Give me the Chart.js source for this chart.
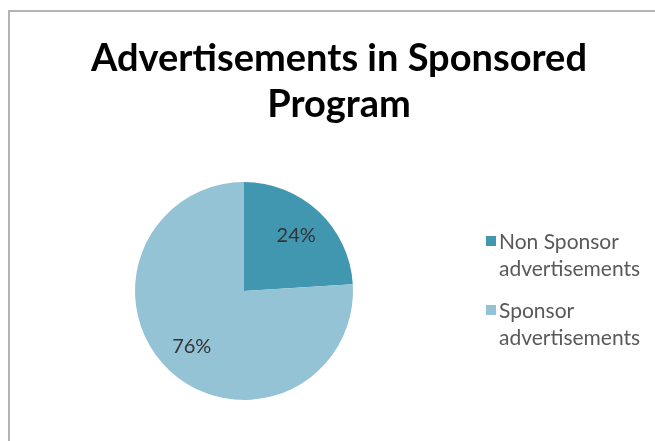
<!DOCTYPE html>
<html>
<head>
<meta charset="utf-8">
<script src="https://cdn.jsdelivr.net/npm/chart.js@4/dist/chart.umd.min.js"></script>
<style>
  html, body { margin: 0; padding: 0; background: #fff; }
  #wrap { width: 655px; height: 441px; position: relative; }
</style>
</head>
<body>
<div id="wrap"><canvas id="c" width="655" height="441"></canvas></div>
<script>
// Chart content
const titleLines = ['Advertisements in Sponsored', 'Program'];
const categories = ['Non Sponsor advertisements', 'Sponsor advertisements'];
const legendLines = [['Non Sponsor', 'advertisements'], ['Sponsor', 'advertisements']];
const shares = [24, 76];
const sliceColors = ['#4197b0', '#93c3d5'];

// Frame, title, slice percentages and the side legend
const decorPlugin = {
  id: 'decor',
  beforeDraw(chart) {
    const ctx = chart.ctx;
    ctx.save();
    ctx.fillStyle = '#ffffff';
    ctx.fillRect(0, 0, chart.width, chart.height);
    ctx.strokeStyle = '#b3b3b3';
    ctx.lineWidth = 2;
    ctx.beginPath();
    ctx.moveTo(9, chart.height);
    ctx.lineTo(9, 11);
    ctx.lineTo(chart.width, 11);
    ctx.stroke();

    ctx.fillStyle = '#000000';
    ctx.font = 'bold 38px Lato, "Open Sans", sans-serif';
    ctx.textAlign = 'center';
    ctx.textBaseline = 'middle';
    titleLines.forEach((t, i) => ctx.fillText(t, 339, 59 + i * 46));
    ctx.restore();
  },
  afterDatasetsDraw(chart) {
    const ctx = chart.ctx;
    const meta = chart.getDatasetMeta(0);
    ctx.save();
    ctx.font = '20px Lato, "Open Sans", sans-serif';
    ctx.fillStyle = '#333333';
    ctx.textAlign = 'center';
    ctx.textBaseline = 'middle';
    meta.data.forEach((arc, i) => {
      const p = arc.getProps(['x', 'y', 'startAngle', 'endAngle', 'outerRadius'], true);
      const mid = (p.startAngle + p.endAngle) / 2;
      const r = p.outerRadius * 0.7;
      ctx.fillText(shares[i] + '%', p.x + Math.cos(mid) * r, p.y + Math.sin(mid) * r);
    });

    // legend
    ctx.textAlign = 'left';
    ctx.font = '21px Lato, "Open Sans", sans-serif';
    legendLines.forEach((lines, i) => {
      const top = 242 + i * 69;
      ctx.fillStyle = sliceColors[i];
      ctx.fillRect(486, top - 6, 10, 10);
      ctx.fillStyle = '#595959';
      lines.forEach((t, j) => ctx.fillText(t, 499, top + j * 27));
    });
    ctx.restore();
  }
};

new Chart(document.getElementById('c'), {
  type: 'pie',
  data: {
    labels: categories,
    datasets: [{
      data: shares,
      backgroundColor: sliceColors,
      borderWidth: 0
    }]
  },
  options: {
    responsive: false,
    animation: false,
    layout: { padding: { top: 181, bottom: 40, left: 135, right: 302 } },
    plugins: {
      legend: { display: false },
      title: { display: false },
      tooltip: { enabled: false }
    }
  },
  plugins: [decorPlugin]
});
</script>
</body>
</html>
